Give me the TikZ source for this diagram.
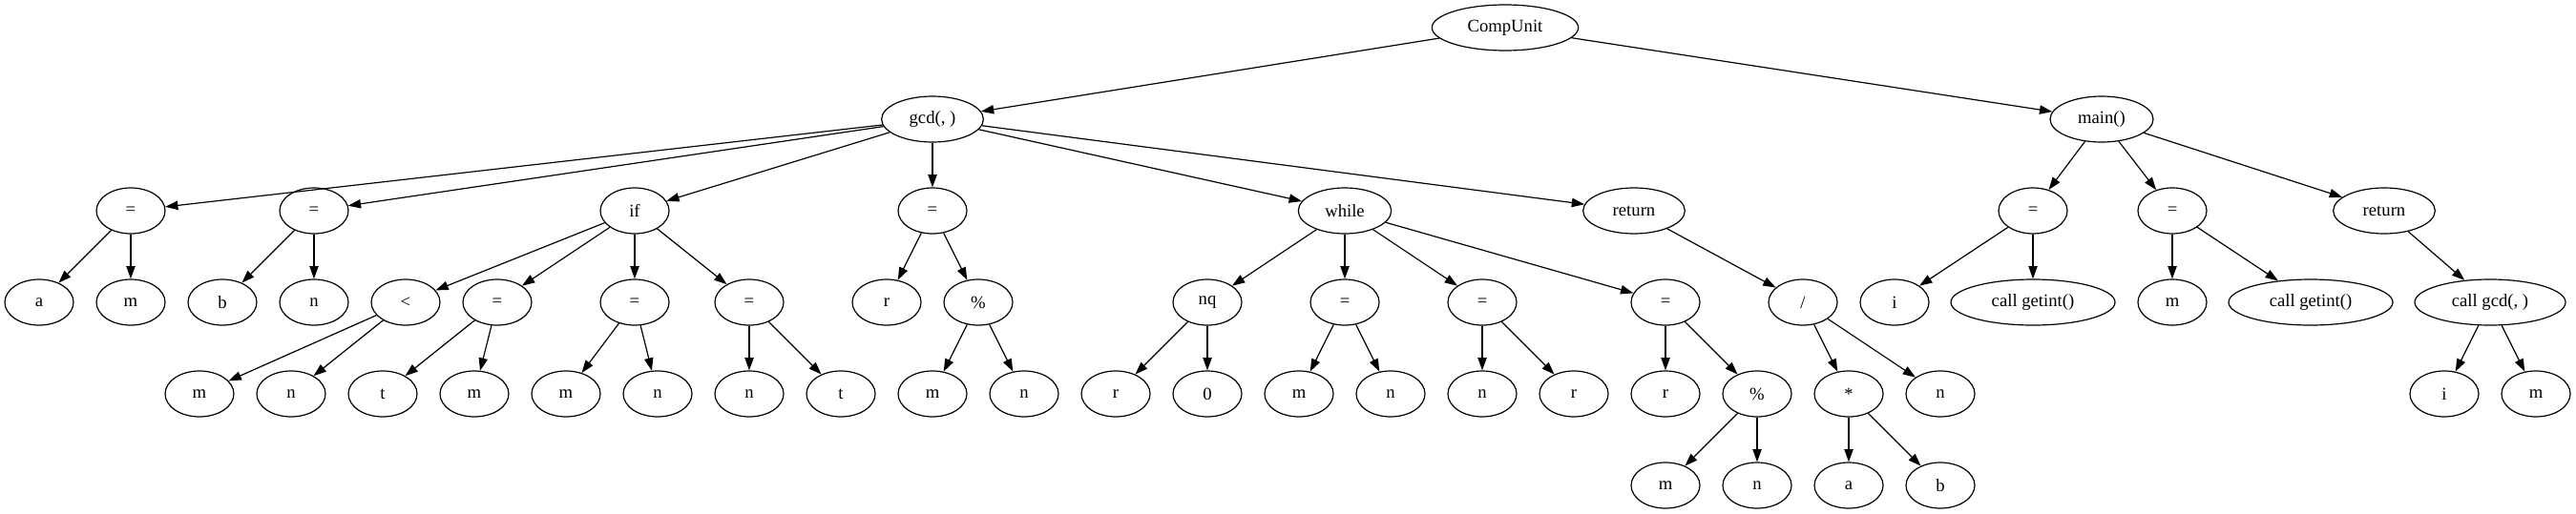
\documentclass[tikz,border=0pt]{standalone}
\usepackage{fontspec}
\setmainfont{Liberation Serif}
\usetikzlibrary{shapes.geometric, arrows.meta}
\tikzstyle{astnode} = [ellipse, minimum width=54pt, minimum height=36pt, inner sep=0pt, text centered, draw=black, line width=0.9pt, font=\fontsize{14pt}{16pt}\selectfont]
\tikzstyle{arrow} = [line width=0.9pt, -{Triangle[length=10pt,width=7pt]}]
\begin{document}
\begin{tikzpicture}[node distance=72pt]
		\useasboundingbox (0,0) rectangle (2024.25pt,-404.25pt);
		\node (compunit) [astnode, minimum width=115pt] at (1182.75pt,-21.75pt) {CompUnit};
		\node (gcd) [astnode, minimum width=80pt, below of=compunit, xshift=-450pt] {gcd(, )};
		\node (main) [astnode, minimum width=81pt, below of=compunit, xshift=468.75pt] {main()};
		\node (assignA) [astnode, below of=gcd, xshift=-630pt] {=};
		\node (assignB) [astnode, below of=gcd, xshift=-486pt] {=};
		\node (if) [astnode, below of=gcd, xshift=-234pt] {if};
		\node (assignR) [astnode, below of=gcd] {=};
		\node (while) [astnode, minimum width=73pt, below of=gcd, xshift=324pt] {while};
		\node (return) [astnode, minimum width=80pt, below of=gcd, xshift=551.25pt] {return};
		\node (mainAssignI) [astnode, below of=main, xshift=-54pt] {=};
		\node (mainAssignM) [astnode, below of=main, xshift=55.5pt] {=};
		\node (mainReturn) [astnode, minimum width=80pt, below of=main, xshift=222pt] {return};
		\node (a1) [astnode, below of=assignA, xshift=-72pt] {a};
		\node (m1) [astnode, below of=assignA] {m};
		\node (b1) [astnode, below of=assignB, xshift=-72pt] {b};
		\node (n1) [astnode, below of=assignB] {n};
		\node (less) [astnode, below of=if, xshift=-180pt] {<};
		\node (ifAssign1) [astnode, below of=if, xshift=-108pt] {=};
		\node (ifAssign2) [astnode, below of=if] {=};
		\node (ifAssign3) [astnode, below of=if, xshift=90pt] {=};
		\node (r1) [astnode, below of=assignR, xshift=-36pt] {r};
		\node (mod1) [astnode, below of=assignR, xshift=36pt] {\%};
		\node (nq) [astnode, below of=while, xshift=-108pt] {nq};
		\node (whileAssign1) [astnode, below of=while] {=};
		\node (whileAssign2) [astnode, below of=while, xshift=108pt] {=};
		\node (whileAssign3) [astnode, below of=while, xshift=252pt] {=};
		\node (div) [astnode, below of=return, xshift=132.75pt] {/};
		\node (i1) [astnode, below of=mainAssignI, xshift=-108.75pt] {i};
		\node (getint1) [astnode, minimum width=129pt, below of=mainAssignI] {call getint()};
		\node (m2) [astnode, below of=mainAssignM] {m};
		\node (getint2) [astnode, minimum width=129pt, below of=mainAssignM, xshift=108.75pt] {call getint()};
		\node (callGcd) [astnode, minimum width=118.5pt, below of=mainReturn, xshift=83.25pt] {call gcd(, )};
		\node (m3) [astnode, below of=less, xshift=-162pt] {m};
		\node (n2) [astnode, below of=less, xshift=-90pt] {n};
		\node (t1) [astnode, below of=ifAssign1, xshift=-90pt] {t};
		\node (m4) [astnode, below of=ifAssign1, xshift=-18pt] {m};
		\node (m5) [astnode, below of=ifAssign2, xshift=-54pt] {m};
		\node (n3) [astnode, below of=ifAssign2, xshift=18pt] {n};
		\node (n4) [astnode, below of=ifAssign3] {n};
		\node (t2) [astnode, below of=ifAssign3, xshift=72pt] {t};
		\node (m6) [astnode, below of=mod1, xshift=-36pt] {m};
		\node (n5) [astnode, below of=mod1, xshift=36pt] {n};
		\node (r2) [astnode, below of=nq, xshift=-72pt] {r};
		\node (zero) [astnode, below of=nq] {0};
		\node (m7) [astnode, below of=whileAssign1, xshift=-36pt] {m};
		\node (n6) [astnode, below of=whileAssign1, xshift=36pt] {n};
		\node (n7) [astnode, below of=whileAssign2] {n};
		\node (r3) [astnode, below of=whileAssign2, xshift=72pt] {r};
		\node (r4) [astnode, below of=whileAssign3] {r};
		\node (mod2) [astnode, below of=whileAssign3, xshift=72pt] {\%};
		\node (mul) [astnode, below of=div, xshift=36pt] {*};
		\node (n8) [astnode, below of=div, xshift=108pt] {n};
		\node (i2) [astnode, below of=callGcd, xshift=-36pt] {i};
		\node (m8) [astnode, below of=callGcd, xshift=36pt] {m};
		\node (m9) [astnode, below of=mod2, xshift=-72pt] {m};
		\node (n9) [astnode, below of=mod2] {n};
		\node (a2) [astnode, below of=mul] {a};
		\node (b2) [astnode, below of=mul, xshift=72pt] {b};
		
		\draw [arrow] (compunit) -- (gcd);
		\draw [arrow] (compunit) -- (main);
		\draw [arrow] (gcd) -- (assignA);
		\draw [arrow] (gcd) -- (assignB);
		\draw [arrow] (gcd) -- (if);
		\draw [arrow] (gcd) -- (assignR);
		\draw [arrow] (gcd) -- (while);
		\draw [arrow] (gcd) -- (return);
		\draw [arrow] (main) -- (mainAssignI);
		\draw [arrow] (main) -- (mainAssignM);
		\draw [arrow] (main) -- (mainReturn);
		\draw [arrow] (assignA) -- (a1);
		\draw [arrow] (assignA) -- (m1);
		\draw [arrow] (assignB) -- (b1);
		\draw [arrow] (assignB) -- (n1);
		\draw [arrow] (if) -- (less);
		\draw [arrow] (if) -- (ifAssign1);
		\draw [arrow] (if) -- (ifAssign2);
		\draw [arrow] (if) -- (ifAssign3);
		\draw [arrow] (assignR) -- (r1);
		\draw [arrow] (assignR) -- (mod1);
		\draw [arrow] (while) -- (nq);
		\draw [arrow] (while) -- (whileAssign1);
		\draw [arrow] (while) -- (whileAssign2);
		\draw [arrow] (while) -- (whileAssign3);
		\draw [arrow] (return) -- (div);
		\draw [arrow] (mainAssignI) -- (i1);
		\draw [arrow] (mainAssignI) -- (getint1);
		\draw [arrow] (mainAssignM) -- (m2);
		\draw [arrow] (mainAssignM) -- (getint2);
		\draw [arrow] (mainReturn) -- (callGcd);
		\draw [arrow] (less) -- (m3);
		\draw [arrow] (less) -- (n2);
		\draw [arrow] (ifAssign1) -- (t1);
		\draw [arrow] (ifAssign1) -- (m4);
		\draw [arrow] (ifAssign2) -- (m5);
		\draw [arrow] (ifAssign2) -- (n3);
		\draw [arrow] (ifAssign3) -- (n4);
		\draw [arrow] (ifAssign3) -- (t2);
		\draw [arrow] (mod1) -- (m6);
		\draw [arrow] (mod1) -- (n5);
		\draw [arrow] (nq) -- (r2);
		\draw [arrow] (nq) -- (zero);
		\draw [arrow] (whileAssign1) -- (m7);
		\draw [arrow] (whileAssign1) -- (n6);
		\draw [arrow] (whileAssign2) -- (n7);
		\draw [arrow] (whileAssign2) -- (r3);
		\draw [arrow] (whileAssign3) -- (r4);
		\draw [arrow] (whileAssign3) -- (mod2);
		\draw [arrow] (div) -- (mul);
		\draw [arrow] (div) -- (n8);
		\draw [arrow] (callGcd) -- (i2);
		\draw [arrow] (callGcd) -- (m8);
		\draw [arrow] (mod2) -- (m9);
		\draw [arrow] (mod2) -- (n9);
		\draw [arrow] (mul) -- (a2);
		\draw [arrow] (mul) -- (b2);
	\end{tikzpicture}
\end{document}
